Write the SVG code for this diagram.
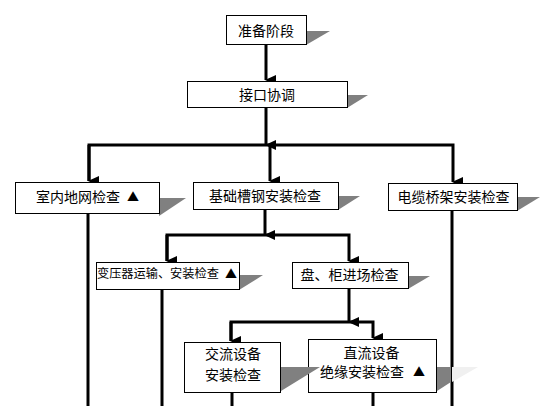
<svg xmlns="http://www.w3.org/2000/svg" width="560" height="406" viewBox="0 0 560 406">
<style>
.box{fill:#fff;stroke:#000;stroke-width:1}
.sh{fill:#808080;stroke:none}
.t{font-family:"Noto Sans CJK SC","Liberation Sans",sans-serif;font-size:14px;fill:#000;dominant-baseline:central}
.c{text-anchor:middle}
.tri{font-size:12px}
.ln{fill:none;stroke:#000;stroke-width:3}
</style>
<defs>
<marker id="ah" markerUnits="userSpaceOnUse" markerWidth="10" markerHeight="11" viewBox="0 0 10 11" refX="5" refY="10" orient="auto-start-reverse">
<path d="M0,0 L10,0 L5,11 Z" fill="#000"/>
</marker>
</defs>
<rect width="560" height="406" fill="#fff"/>
<g id="connectors">
<line class="ln" x1="266" y1="44" x2="266" y2="80" marker-end="url(#ah)" transform="rotate(0)"/>
<line class="ln" x1="266" y1="107" x2="266" y2="145" marker-end="url(#ah)"/>
<polyline class="ln" points="89,181 89,145 453,145 453,182" marker-end="url(#ah)"/>
<path class="ln" d="M89,145 L89,181" marker-end="url(#ah)"/>
<path class="ln" d="M270,145 L270,181" marker-end="url(#ah)"/>
<line class="ln" x1="265" y1="209" x2="265" y2="235" marker-end="url(#ah)"/>
<polyline class="ln" points="167,261 167,235 349,235 349,261" marker-end="url(#ah)"/>
<path class="ln" d="M167,235 L167,261" marker-end="url(#ah)"/>
<line class="ln" x1="349" y1="288" x2="349" y2="322" marker-end="url(#ah)"/>
<polyline class="ln" points="231,341 231,322 373,322 373,338" marker-end="url(#ah)"/>
<path class="ln" d="M231,322 L231,341" marker-end="url(#ah)"/>
<line class="ln" x1="88" y1="213" x2="88" y2="406"/>
<line class="ln" x1="162" y1="289" x2="162" y2="406"/>
<line class="ln" x1="452" y1="210" x2="452" y2="297"/>
<line class="ln" x1="452" y1="297" x2="452" y2="395" stroke="#8a8a8a"/>
<line class="ln" x1="452" y1="395" x2="452" y2="406"/>
<line class="ln" x1="232" y1="392" x2="232" y2="406"/>
<line class="ln" x1="373" y1="392" x2="373" y2="406"/>
</g>
<g id="n1">
<polygon class="sh" points="306,31 330,31 306,45"/>
<rect class="box" x="226.5" y="15.5" width="80" height="29"/>
<text class="t c" x="266" y="29.5">准备阶段</text>
</g>
<g id="n2">
<polygon class="sh" points="347,95 368,95 347,108"/>
<rect class="box" x="187.5" y="81.5" width="160" height="26"/>
<text class="t c" x="267" y="94">接口协调</text>
</g>
<g id="n3">
<polygon class="sh" points="159,198 186,198 159,216"/>
<rect class="box" x="15.5" y="182.5" width="144" height="31"/>
<text class="t" x="36" y="196">室内地网检查<tspan class="tri" x="127">▲</tspan></text>
</g>
<g id="n4">
<polygon class="sh" points="338,196 360,196 338,210"/>
<rect class="box" x="193.5" y="182.5" width="145" height="27"/>
<text class="t c" x="265" y="195">基础槽钢安装检查</text>
</g>
<g id="n5">
<polygon class="sh" points="517,197 540,197 517,211"/>
<rect class="box" x="388.5" y="183.5" width="129" height="27"/>
<text class="t c" x="453.5" y="196">电缆桥架安装检查</text>
</g>
<g id="n6">
<polygon class="sh" points="239,275 263,275 239,290"/>
<rect class="box" x="96.5" y="262.5" width="143" height="27"/>
<text class="t" x="97" y="273" style="font-size:12.2px">变压器运输、安装检查<tspan class="tri" x="225">▲</tspan></text>
</g>
<g id="n7">
<polygon class="sh" points="408,276 430,276 408,289"/>
<rect class="box" x="292.5" y="262.5" width="116" height="26"/>
<text class="t c" x="349.5" y="274">盘、柜进场检查</text>
</g>
<g id="n9">
<polygon fill="#f0f0f0" points="452,367 478,367 452,382"/>
<polygon class="sh" points="437,367 451,367 451,382 437,391"/>
<rect class="box" x="308.5" y="339.5" width="128" height="53"/>
<text class="t c" x="371.5" y="352">直流设备</text>
<text class="t" x="320" y="371">绝缘安装检查<tspan class="tri" x="413">▲</tspan></text>
</g>
<g id="n8">
<polygon class="sh" points="281,367 320,367 281,391"/>
<rect class="box" x="184.5" y="342.5" width="96" height="50"/>
<text class="t c" x="233" y="353">交流设备</text>
<text class="t c" x="233" y="374">安装检查</text>
</g>
</svg>
